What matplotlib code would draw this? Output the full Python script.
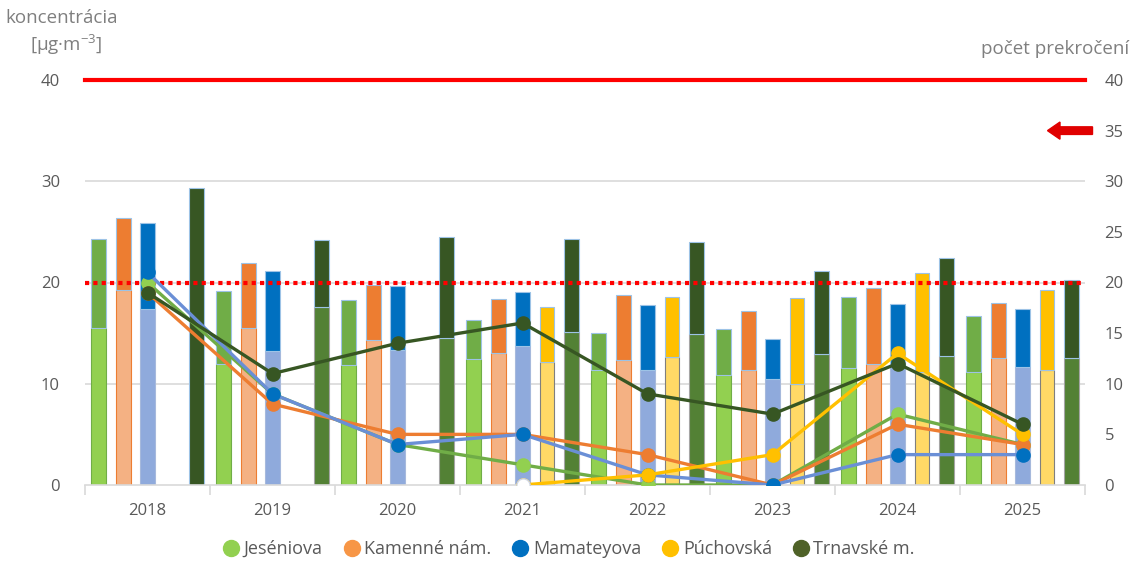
import numpy as np
import matplotlib
matplotlib.use("Agg")
import matplotlib.pyplot as plt
from matplotlib.lines import Line2D
from matplotlib.patches import FancyArrow

plt.rcParams['font.family'] = ['Open Sans', 'DejaVu Sans']

years = ['2018', '2019', '2020', '2021', '2022', '2023', '2024', '2025']
stations = ['Jeséniova', 'Kamenné nám.', 'Mamateyova', 'Púchovská', 'Trnavské m.']

nan = np.nan
# concentration: lower (light) part and total (top of dark part)
jes_low = [15.5, 12.0, 11.9, 12.4, 11.4, 10.9, 11.6, 11.2]
jes_top = [24.3, 19.2, 18.3, 16.3, 15.0, 15.4, 18.6, 16.7]
kam_low = [19.3, 15.5, 14.3, 13.0, 12.3, 11.4, 12.0, 12.5]
kam_top = [26.4, 21.9, 19.8, 18.4, 18.8, 17.2, 19.5, 18.0]
mam_low = [17.4, 13.2, 13.3, 13.7, 11.4, 10.5, 12.0, 11.7]
mam_top = [25.9, 21.1, 19.7, 19.1, 17.8, 14.4, 17.9, 17.4]
puc_low = [nan, nan, nan, 12.1, 12.6, 10.0, 11.2, 11.4]
puc_top = [nan, nan, nan, 17.6, 18.6, 18.5, 20.9, 19.3]
trn_low = [0.0, 17.6, 14.5, 15.1, 14.9, 12.9, 12.7, 12.5]
trn_top = [29.3, 24.2, 24.5, 24.3, 24.0, 21.1, 22.4, 20.2]

# number of exceedances (right axis)
jes_cnt = [20, 9, 4, 2, 0, 0, 7, 4]
kam_cnt = [19, 8, 5, 5, 3, 0, 6, 4]
mam_cnt = [21, 9, 4, 5, 1, 0, 3, 3]
puc_cnt = [nan, nan, nan, 0, 1, 3, 13, 5]
trn_cnt = [19, 11, 14, 16, 9, 7, 12, 6]

limit_conc = 40
limit_cnt = 35
ref_level = 20

lows = [jes_low, kam_low, mam_low, puc_low, trn_low]
tops = [jes_top, kam_top, mam_top, puc_top, trn_top]
cnts = [jes_cnt, kam_cnt, mam_cnt, puc_cnt, trn_cnt]

low_col = ['#92d050', '#f4b183', '#8faadc', '#ffd966', '#538135']
top_col = ['#70ad47', '#ed7d31', '#0070c0', '#ffc000', '#375623']
low_edge = ['#70ad47', '#ed7d31', '#a6b9dc', '#7f7f7f', '#a5a5a5']
line_col = ['#70ad47', '#ed7d31', '#6a8fd6', '#ffc000', '#375623']
mk_col = ['#92d050', '#ed7d31', '#0070c0', '#ffc000', '#375623']
leg_col = ['#92d050', '#f79646', '#0070c0', '#ffc000', '#4f6228']

gray = '#7f7f7f'
fig = plt.figure(figsize=(11.37, 5.61), dpi=100)
ax = fig.add_axes([85/1137, 1-485/561, (1085-85)/1137, (485-80)/561])
ax2 = ax.twinx()

x = np.arange(len(years))
offsets = [-0.39, -0.195, 0.0, 0.195, 0.39]
bw = 0.118
for i in range(5):
    lo = np.array(lows[i], dtype=float)
    tp = np.array(tops[i], dtype=float)
    ax.bar(x + offsets[i], lo, bw, color=low_col[i], edgecolor=low_edge[i],
           linewidth=0.8, zorder=2)
    ax.bar(x + offsets[i], tp - lo, bw, bottom=lo, color=top_col[i],
           edgecolor='#9dc3e6', linewidth=0.8, zorder=2)

ax.set_xlim(-0.5, len(years) - 0.5)
ax.set_ylim(0, 40)
ax.set_yticks([0, 10, 20, 30, 40])
for yv in [10, 20, 30]:
    ax.axhline(yv, color='#d9d9d9', lw=1.2, zorder=1)
ax.axhline(limit_conc, color='#ff0000', lw=3, zorder=5, clip_on=False)
ax.axhline(ref_level, color='#ff0000', lw=3, ls=(0, (1, 1)), zorder=5)

for s in ['top', 'right', 'left']:
    ax.spines[s].set_visible(False)
ax.spines['bottom'].set_color('#d9d9d9')
ax.spines['bottom'].set_linewidth(1.2)
ax.set_xticks(x)
ax.set_xticklabels(years)
ax.set_xticks(np.arange(-0.5, len(years), 1.0), minor=True)
ax.tick_params(axis='x', which='major', length=0, pad=13, labelsize=12, labelcolor='#595959')
ax.tick_params(axis='x', which='minor', length=7, color='#d9d9d9', width=1.2)
ax.tick_params(axis='y', length=0, pad=18, labelsize=12, labelcolor='#595959')

ax2.set_ylim(0, 40)
ax2.set_yticks(np.arange(0, 41, 5))
ax2.tick_params(axis='y', length=0, pad=14, labelsize=12, labelcolor='#595959')
for s in ['top', 'right', 'left', 'bottom']:
    ax2.spines[s].set_visible(False)

for i in [3, 0, 1, 2, 4]:
    c = np.array(cnts[i], dtype=float)
    ax2.plot(x, c, color=line_col[i], lw=2.4, marker='o', ms=9.5,
             mfc=mk_col[i], mec=mk_col[i], zorder=3 + i * 0.1)
# first Púchovská point drawn as hollow marker
first = int(np.where(~np.isnan(np.array(puc_cnt, dtype=float)))[0][0])
ax2.plot(x[first], puc_cnt[first], marker='o', ms=9.5, mfc='white', mec='#d0d7e5',
         lw=0, zorder=4)

# arrow marking exceedance limit
arr = FancyArrow(7.56, limit_cnt, -0.36, 0, width=0.75, head_width=1.7,
                 head_length=0.1, length_includes_head=True,
                 color='#e00000', clip_on=False, zorder=6)
ax2.add_patch(arr)

fig.text(5/1137, 1-18/561, 'koncentrácia', fontsize=13.5, color=gray, va='center', ha='left')
fig.text(30/1137, 1-45/561, '[µg·m$^{\\mathregular{-3}}$]', fontsize=13.5, color=gray,
         va='center', ha='left')
fig.text(1129/1137, 1-49/561, 'počet prekročení', fontsize=13.5, color=gray, va='center', ha='right')

handles = [Line2D([], [], lw=0, marker='o', ms=11.5, mfc=leg_col[i], mec=leg_col[i])
           for i in range(5)]
fig.legend(handles, stations, loc='center', bbox_to_anchor=(0.5, 1-549/561), ncol=5,
           frameon=False, fontsize=13, labelcolor='#595959', handletextpad=0.2,
           columnspacing=1.1, handlelength=1.0)

fig.savefig('out.png', dpi=100)
